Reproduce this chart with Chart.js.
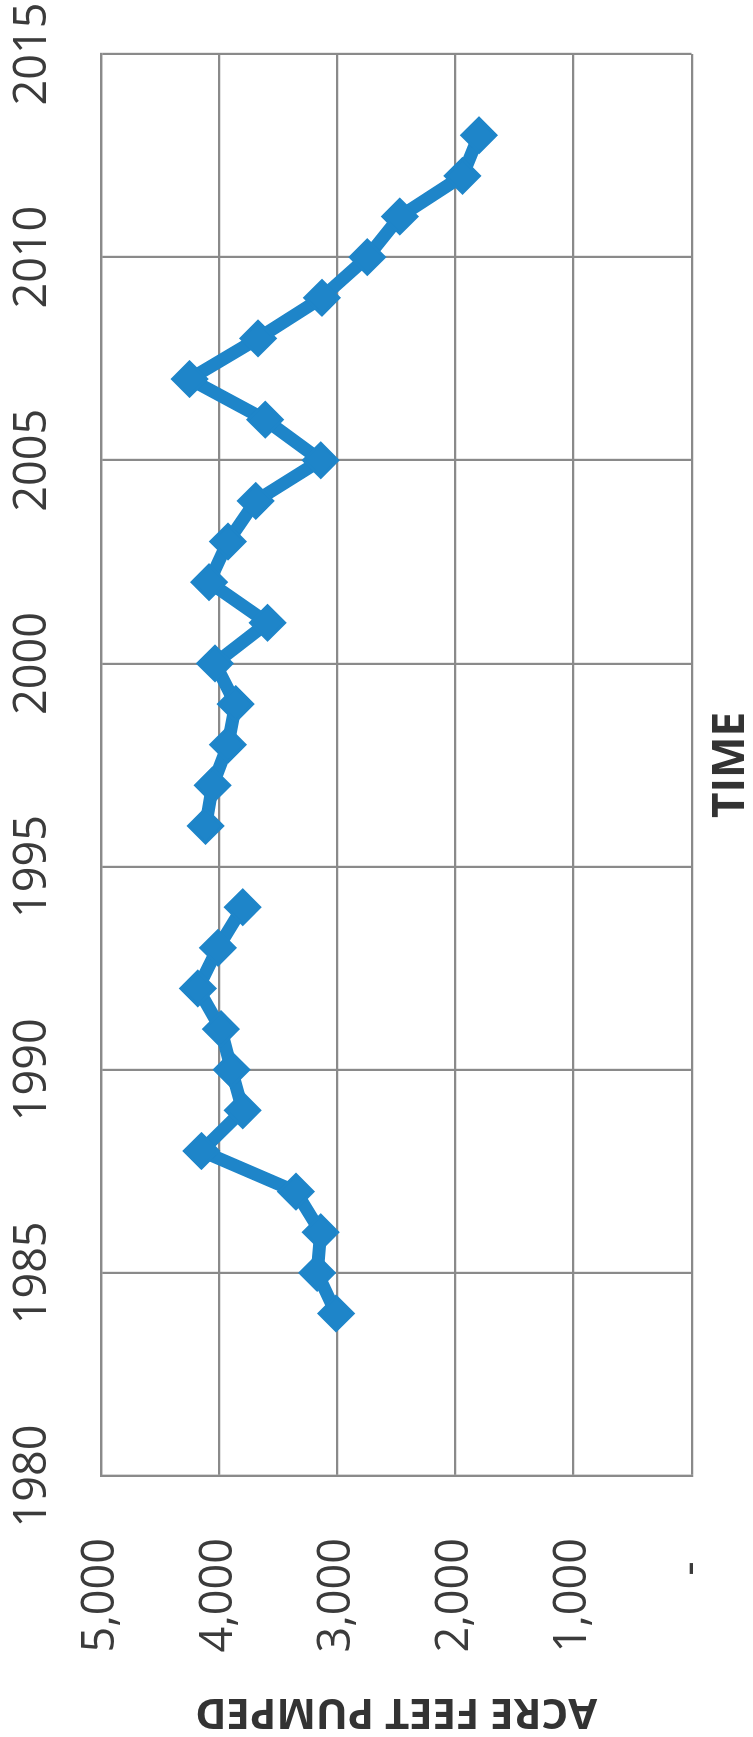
<!DOCTYPE html>
<html>
<head>
<meta charset="utf-8">
<script src="https://cdn.jsdelivr.net/npm/chart.js@4"></script>
<style>
  html, body { margin: 0; padding: 0; background: #fff; overflow: hidden; }
  /* chart is drawn landscape, then turned a quarter to the left like the scan */
  #wrap {
    position: absolute; left: 0; top: 0;
    width: 1737px; height: 753px;
    transform-origin: 0 0;
    transform: translateY(1737px) rotate(-90deg);
  }
</style>
</head>
<body>
<div id="wrap"><canvas id="pumpChart" width="1737" height="753"></canvas></div>
<script>
// 연도별 양수량 (1995 없음)
const years = [1984, 1985, 1986, 1987, 1988, 1989, 1990, 1991, 1992, 1993, 1994, 1995,
  1996, 1997, 1998, 1999, 2000, 2001, 2002, 2003, 2004, 2005, 2006, 2007, 2008, 2009,
  2010, 2011, 2012, 2013];
const acreFeet = [3010, 3170, 3140, 3350, 4150, 3800, 3895, 3985, 4180, 4010, 3800, null,
  4115, 4055, 3925, 3860, 4035, 3590, 4085, 3925, 3690, 3140, 3610, 4250, 3670, 3130,
  2745, 2470, 1940, 1800];
const yearTicks = [1980, 1985, 1990, 1995, 2000, 2005, 2010, 2015];
const valueTicks = [0, 1000, 2000, 3000, 4000, 5000];

const points = years.map((yr, i) => ({ x: yr, y: acreFeet[i] }));

const tickFont = { family: "'Open Sans'", size: 45 };
const gridColor = "#8a8a8a";

const ctx = document.getElementById("pumpChart").getContext("2d");

const pumpChart = new Chart(ctx, {
  type: "line",
  data: {
    datasets: [
      {
        label: "Acre feet pumped",
        data: points,
        borderColor: "#1E85C9",
        backgroundColor: "#1E85C9",
        borderWidth: 13,
        tension: 0,
        spanGaps: false,
        pointStyle: "rectRot",
        pointRadius: 17,
        pointBorderWidth: 3,
        pointBackgroundColor: "#1E85C9",
        pointBorderColor: "#1E85C9",
      },
    ],
  },
  options: {
    responsive: false,
    animation: false,
    devicePixelRatio: 1,
    layout: {
      padding: { left: 0, right: 54, top: 0, bottom: 0 },
    },
    plugins: {
      legend: { display: false },
      tooltip: { enabled: false },
    },
    scales: {
      x: {
        type: "linear",
        position: "top",
        min: yearTicks[0],
        max: yearTicks[yearTicks.length - 1],
        afterBuildTicks: (scale) => {
          scale.ticks = yearTicks.map((v) => ({ value: v }));
        },
        afterFit: (scale) => {
          scale.height = 101;
          scale.paddingLeft = 0; // 큰 tick padding 때문에 여백이 늘어나지 않게
          scale.paddingRight = 0;
        },
        grid: { color: gridColor, lineWidth: 2.2, drawTicks: false },
        border: { color: gridColor, width: 2.2 },
        ticks: {
          font: tickFont,
          color: "#3b3b3b",
          padding: 41,
          maxRotation: 0,
          autoSkip: false,
          callback: (value) => String(value),
        },
      },
      x2: {
        type: "linear",
        position: "bottom",
        afterFit: (scale) => { scale.height = 61.4; },
        grid: { display: false, drawTicks: false },
        border: { display: false },
        ticks: { display: false },
        title: {
          display: true,
          text: "TIME",
          color: "#333",
          font: { family: "'Open Sans'", size: 44, weight: "bold", lineHeight: 1 },
          padding: 0,
        },
      },
      y: {
        min: valueTicks[0],
        max: valueTicks[valueTicks.length - 1],
        afterBuildTicks: (scale) => {
          scale.ticks = valueTicks.map((v) => ({ value: v }));
        },
        afterFit: (scale) => {
          scale.width = 261;
          scale.paddingTop = 0;
          scale.paddingBottom = 0;
        },
        grid: { color: gridColor, lineWidth: 2.2, drawTicks: false },
        border: { color: gridColor, width: 2.2 },
        ticks: {
          font: tickFont,
          color: "#3b3b3b",
          padding: 62,
          callback: (value) => (value === 0 ? "-  " : value.toLocaleString("en-US")),
        },
        title: {
          display: true,
          text: "ACRE FEET PUMPED",
          color: "#333",
          font: { family: "'Open Sans'", size: 42, weight: "bold" },
          padding: { top: 1, bottom: 0 },
        },
      },
    },
  },
});
</script>
</body>
</html>
